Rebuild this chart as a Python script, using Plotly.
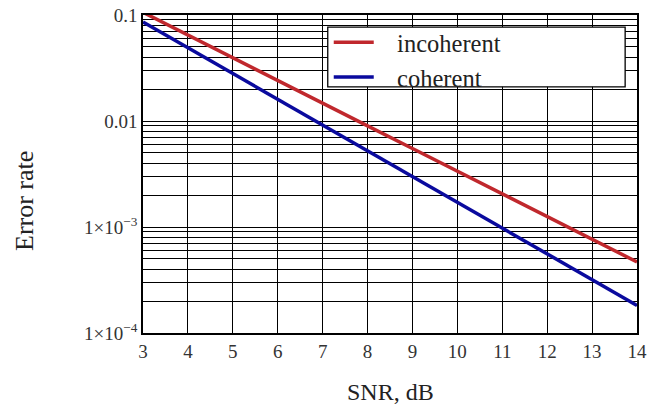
import plotly.graph_objects as go

snr_db = [3, 4, 5, 6, 7, 8, 9, 10, 11, 12, 13, 14]
incoherent = [0.106, 0.0645, 0.0394, 0.0241, 0.0147, 0.0090, 0.0055, 0.00336, 0.00205, 0.00125, 0.000766, 0.000468]
coherent = [0.0859, 0.0491, 0.0281, 0.0160, 0.00916, 0.00524, 0.00299, 0.00171, 0.000977, 0.000558, 0.000319, 0.000182]
series_names = ["incoherent", "coherent"]

y_tickvals = [1e-1, 1e-2, 1e-3, 1e-4]
y_ticktext = ["0.1", "0.01", "1×10<sup>−3</sup>", "1×10<sup>−4</sup>"]
x_tickvals = list(range(3, 15))

minor_vals = [m * 10.0 ** e for e in (-4, -3, -2) for m in range(2, 10)]

SERIF = "Liberation Serif"
PAD = "\u00a0\u00a0\u00a0"

fig = go.Figure()
fig.add_trace(go.Scatter(x=snr_db, y=incoherent, mode="lines", name=PAD + series_names[0],
                         line=dict(color="#c0282d", width=3.5)))
fig.add_trace(go.Scatter(x=snr_db, y=coherent, mode="lines", name=PAD + series_names[1],
                         line=dict(color="#0a0a9e", width=3.5)))

fig.update_layout(
    template="none",
    width=650, height=408,
    margin=dict(l=143, r=13, t=15, b=75),
    paper_bgcolor="white", plot_bgcolor="white",
    font=dict(family=SERIF, color="#333333", size=19),
    showlegend=True,
    legend=dict(x=0.376, y=0.985, xanchor="left", yanchor="top",
                bgcolor="rgba(0,0,0,0)", borderwidth=0,
                font=dict(family=SERIF, size=24.5, color="#222222"),
                tracegroupgap=0, itemwidth=40),
    shapes=[dict(type="rect", xref="paper", yref="paper",
                 x0=0.374, x1=0.976, y0=0.774, y1=0.962,
                 line=dict(color="black", width=1.3), fillcolor="white",
                 layer="above")],
    annotations=[
        dict(text="SNR, dB", xref="paper", yref="paper", x=0.5, y=0,
             yshift=-59, xanchor="center", yanchor="middle", showarrow=False,
             font=dict(family=SERIF, size=24, color="#222222")),
        dict(text="Error rate", xref="paper", yref="paper", x=0, y=0.5,
             xshift=-119, yshift=-27, xanchor="center", yanchor="middle",
             textangle=-90, showarrow=False,
             font=dict(family=SERIF, size=26, color="#222222")),
    ],
)
fig.update_xaxes(range=[3, 14], tickmode="array", tickvals=x_tickvals, ticks="",
                 showgrid=True, gridcolor="black", gridwidth=1.4,
                 showline=True, linecolor="black", linewidth=1.6, mirror=True,
                 zeroline=False, tickfont=dict(family=SERIF, size=19, color="#333333"))
fig.update_yaxes(type="log", range=[-4, -1], tickmode="array", tickvals=y_tickvals,
                 ticktext=y_ticktext, ticks="", showgrid=True, gridcolor="black",
                 gridwidth=1.4, showline=True, linecolor="black", linewidth=1.6,
                 mirror=True, zeroline=False,
                 tickfont=dict(family=SERIF, size=19, color="#333333"),
                 minor=dict(tickvals=minor_vals, showgrid=True, gridcolor="black",
                            gridwidth=1.4, ticks=""))

fig.write_html("out.html")
